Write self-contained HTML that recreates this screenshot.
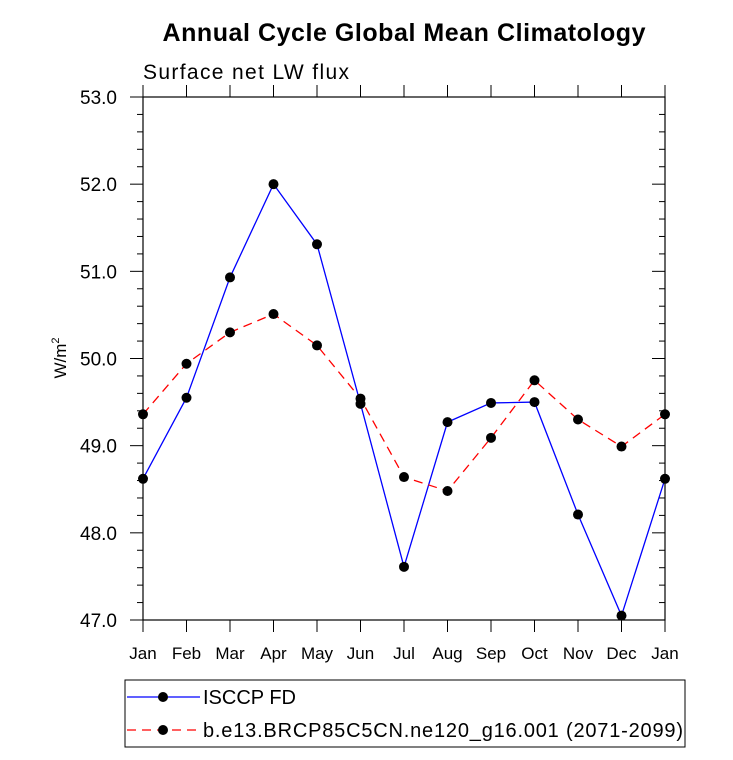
<!DOCTYPE html>
<html><head><meta charset="utf-8"><style>
body{margin:0;background:#fff;width:733px;height:755px;overflow:hidden}
text{font-family:"Liberation Sans",sans-serif;fill:#000}
</style></head><body>
<svg id="chart" width="733" height="755" xmlns="http://www.w3.org/2000/svg">
<text x="404" y="41" font-size="25" font-weight="bold" text-anchor="middle" textLength="483">Annual Cycle Global Mean Climatology</text>
<text x="143" y="79" font-size="21" textLength="206">Surface net LW flux</text>
<text transform="translate(66,358) rotate(-90)" font-size="17" text-anchor="middle">W/m<tspan font-size="11" dy="-7">2</tspan></text>
<g id="axes"></g>
<g id="series"></g>
<g>
<rect x="125" y="680" width="560" height="67" fill="none" stroke="#000" stroke-width="1"/>
<line x1="127" y1="697" x2="200" y2="697" stroke="#0000ff" stroke-width="1.3"/>
<circle cx="163" cy="697" r="5" fill="#000"/>
<text x="203" y="704" font-size="20">ISCCP FD</text>
<line x1="127" y1="730" x2="200" y2="730" stroke="#ff0000" stroke-width="1.3" stroke-dasharray="9,6"/>
<circle cx="163" cy="730" r="5" fill="#000"/>
<text x="203" y="737" font-size="20" textLength="480">b.e13.BRCP85C5CN.ne120_g16.001 (2071-2099)</text>
</g>
</svg>
<script>
const months=["Jan","Feb","Mar","Apr","May","Jun","Jul","Aug","Sep","Oct","Nov","Dec","Jan"];
const isccp=[48.62,49.55,50.93,52.0,51.31,49.48,47.61,49.27,49.49,49.50,48.21,47.05,48.62];
const model=[49.36,49.94,50.30,50.51,50.15,49.54,48.64,48.48,49.09,49.75,49.30,48.99,49.36];
const yTicks=[47,48,49,50,51,52,53];
const NS="http://www.w3.org/2000/svg";
const L=143,R=665,T=97,B=620,ymin=47,ymax=53;
const xs=i=>L+i*(R-L)/12;
const ys=v=>B-(v-ymin)*(B-T)/(ymax-ymin);
function mk(tag,attrs,parent){const e=document.createElementNS(NS,tag);for(const k in attrs)e.setAttribute(k,attrs[k]);parent.appendChild(e);return e;}
const ax=document.getElementById('axes');
const frame=mk('rect',{x:L,y:T,width:R-L,height:B-T,fill:'none',stroke:'#000','stroke-width':1.2},ax);


for(let v=ymin;v<=ymax+1e-6;v+=0.2){
  const major=Math.abs(v-Math.round(v))<1e-6;const y=ys(v);
  mk('line',{x1:L,y1:y,x2:L-(major?13:6),y2:y,stroke:'#000','stroke-width':1},ax);
  mk('line',{x1:R,y1:y,x2:R-(major?13:6),y2:y,stroke:'#000','stroke-width':1},ax);
}
yTicks.forEach(v=>{const t=mk('text',{x:117,y:ys(v)+7,'font-size':19,'text-anchor':'end'},ax);t.textContent=v.toFixed(1);

});
months.forEach((m,i)=>{const x=xs(i);
  mk('line',{x1:x,y1:B,x2:x,y2:B+12,stroke:'#000','stroke-width':1},ax);
  mk('line',{x1:x,y1:T,x2:x,y2:T-12,stroke:'#000','stroke-width':1},ax);
  const t=mk('text',{x:x,y:B+39,'font-size':17,'text-anchor':'middle'},ax);t.textContent=m;
  
  });
const sg=document.getElementById('series');
function draw(data,color,dash,name){
  const p=mk('polyline',{points:data.map((v,i)=>xs(i)+','+ys(v)).join(' '),fill:'none',stroke:color,'stroke-width':1.3,'stroke-dasharray':dash},sg);
  
  
  data.forEach((v,i)=>{const c=mk('circle',{cx:xs(i),cy:ys(v),r:5,fill:'#000'},sg);
    
    });
}
draw(isccp,'#0000ff','none','isccp');
draw(model,'#ff0000','9,6','model');
</script>
</body></html>
